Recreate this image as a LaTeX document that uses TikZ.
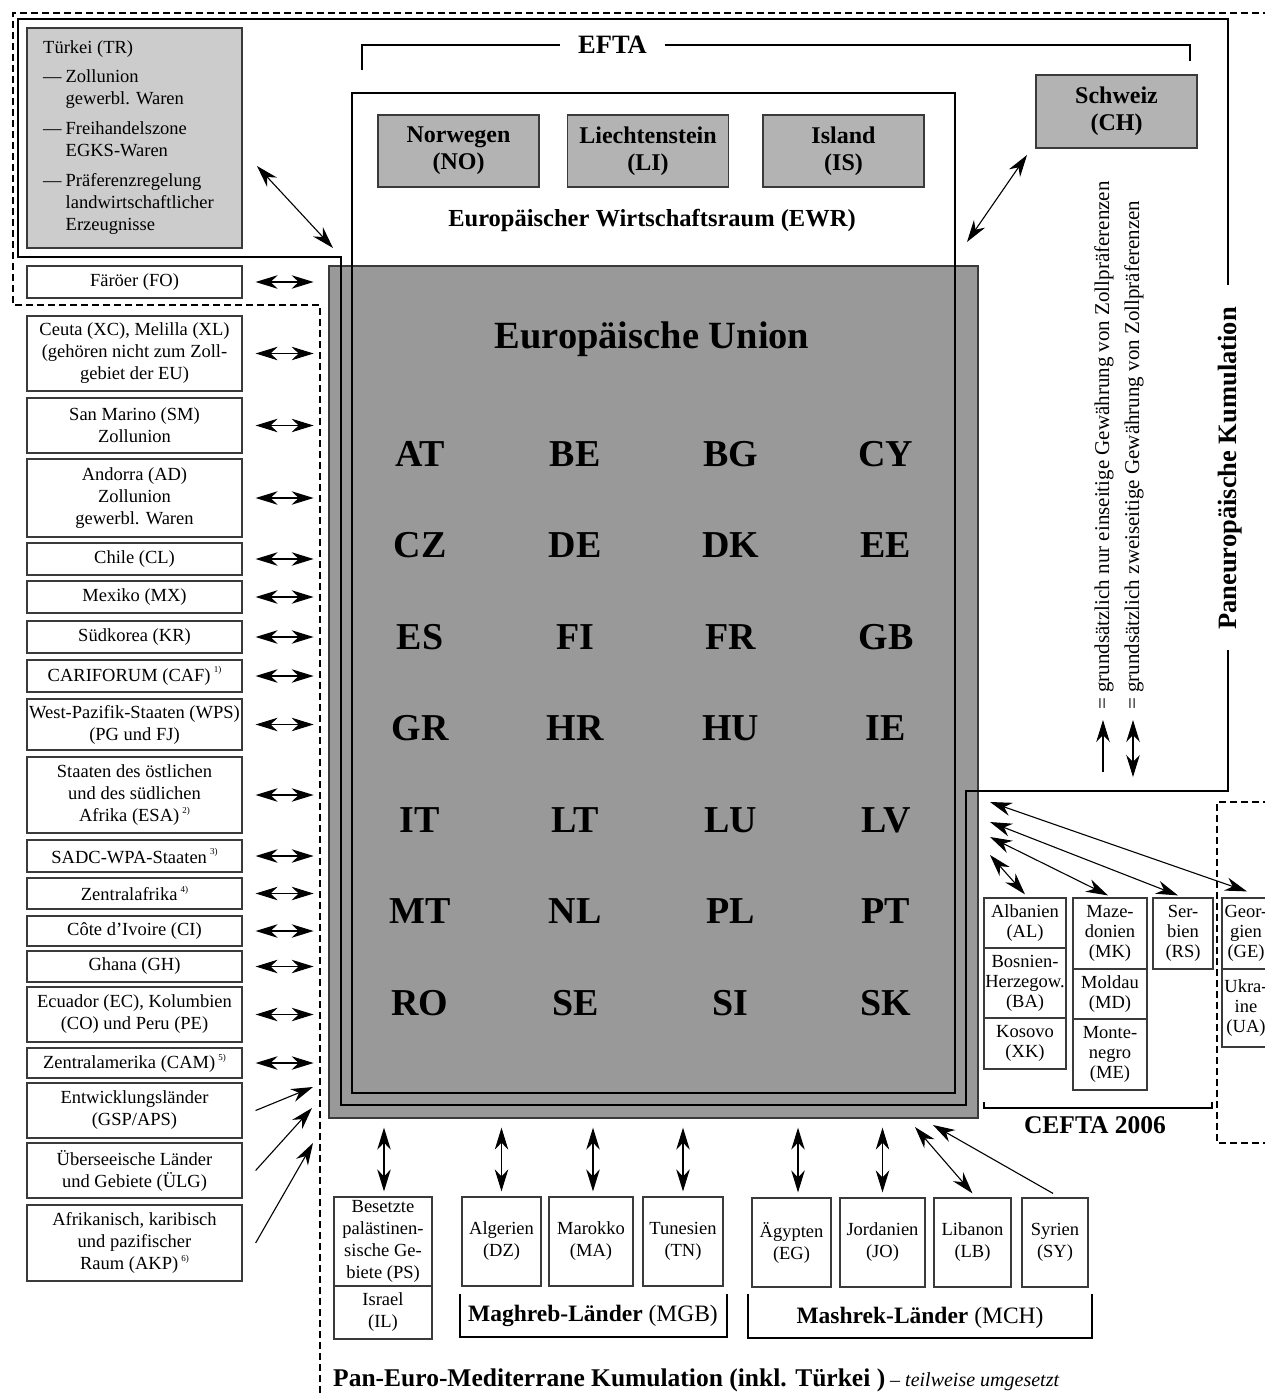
\documentclass[tikz,border=0pt]{standalone}
\usepackage{fontspec}
\setmainfont{Liberation Serif}
\usetikzlibrary{arrows.meta,calc}
\definecolor{eugray}{HTML}{999999}
\definecolor{efgray}{HTML}{B3B3B3}
\definecolor{trgray}{HTML}{CCCCCC}
\definecolor{edge}{HTML}{3A3A3A}
\newcommand{\fnote}[1]{\raisebox{0.45em}{\fontsize{9}{9}\selectfont #1}}
\tikzset{
  hd/.tip={Stealth[length=22pt,width=13.5pt,inset=7pt]},
  fs/.style={font=\fontsize{18.5}{22}\selectfont},
  fc/.style={font=\fontsize{18.5}{20}\selectfont},
  cbox/.style={draw=edge, line width=1.2pt, fill=white, align=center, inner sep=0pt, fs},
  lb/.style={cbox, minimum width=215pt},
  kbox/.style={cbox, fc},
  gbox/.style={draw=edge, line width=1.3pt, fill=efgray, align=center, inner sep=0pt,
               minimum width=161pt, minimum height=72pt, font=\bfseries\fontsize{24}{27}\selectfont},
  ln/.style={line width=1.5pt},
  br/.style={line width=1.3pt},
  dsh/.style={line width=2.3pt, dash pattern=on 7pt off 4pt},
  dar/.style={line width=1.1pt, arrows={hd-hd}},
  sar/.style={line width=1.1pt, arrows={-hd}},
  code/.style={font=\bfseries\fontsize{38}{40}\selectfont, inner sep=0pt},
}
\begin{document}
\begin{tikzpicture}[x=1pt,y=-1pt]
\useasboundingbox (0,0) rectangle (1265,1397);
\clip (0,0) rectangle (1265,1397);
\fill[white] (0,0) rectangle (1265,1397);

% European Union (grey area)
\node[draw=edge, line width=1.3pt, fill=eugray, minimum width=649pt, minimum height=852pt, inner sep=0pt] (eu) at (653.5,692) {};
% EWR frame
\node[draw=black, line width=1.5pt, minimum width=603pt, minimum height=1000pt, inner sep=0pt] (ewr) at (653.5,593) {};
% Paneuropean cumulation frame
\draw[ln] (1228,285) -- (1228,19) -- (18,19) -- (18,257) -- (341,257) -- (341,1105) -- (966,1105) -- (966,791) -- (1228,791) -- (1228,650);
% Pan-Euro-Med dashed frame
\draw[dsh] (1270,13) -- (13,13) -- (13,305) -- (320,305) -- (320,1400);
\draw[dsh] (1270,802) -- (1217,802) -- (1217,1143) -- (1270,1143);

% EFTA bracket
\draw[br] (362,70) -- (362,45) -- (560,45);
\draw[br] (665,45) -- (1190,45) -- (1190,61);
\node[anchor=base, inner sep=0pt, font=\bfseries\fontsize{26.5}{28}\selectfont] (efta) at (612.5,53) {EFTA};

% EFTA states
\node[gbox] (no) at (458.5,151) {Norwegen\\(NO)};
\node[gbox] (li) at (648,151) {Liechtenstein\\(LI)};
\node[gbox] (is) at (843.5,151) {Island\\(IS)};
\node[gbox, minimum height=73pt] (ch) at (1116.5,111.5) {Schweiz\\(CH)};
\node[anchor=base, inner sep=0pt, font=\bfseries\fontsize{24.5}{27}\selectfont] (ewrtxt) at (652,226) {Europäischer Wirtschaftsraum (EWR)};

% EU title and members
\node[anchor=base, inner sep=0pt, font=\bfseries\fontsize{38.5}{40}\selectfont] (eutxt) at (652,348) {Europäische Union};
\foreach \c [count=\i from 0] in {AT,BE,BG,CY,CZ,DE,DK,EE,ES,FI,FR,GB,GR,HR,HU,IE,IT,LT,LU,LV,MT,NL,PL,PT,RO,SE,SI,SK} {
  \pgfmathtruncatemacro{\col}{mod(\i,4)}
  \pgfmathtruncatemacro{\row}{int(\i/4)}
  \node[code] (c-\c) at ({420+155.3*\col},{454+91.5*\row}) {\c};
}

% Tuerkei
\node[draw=edge, line width=1.3pt, fill=trgray, minimum width=215pt, minimum height=220pt, inner sep=0pt] (tr) at (134.5,138) {};
\node[anchor=north west, inner sep=0pt, fs, align=left] (trtxt) at (43,38) {%
\begin{tabular}{@{}l@{\hspace{4pt}}l@{}}
\multicolumn{2}{@{}l@{}}{Türkei (TR)}\\[7pt]
— & Zollunion\\
  & gewerbl. Waren\\[8pt]
— & Freihandelszone\\
  & EGKS-Waren\\[8pt]
— & Präferenzregelung\\
  & landwirtschaftlicher\\
  & Erzeugnisse
\end{tabular}};
\coordinate (trA) at (257,166);
\coordinate (trB) at (333,248);
\draw[dar] (trA) -- (trB);
\coordinate (chA) at (1027,155);
\coordinate (chB) at (967,242);
\draw[dar] (chA) -- (chB);

% Left column
\node[lb, minimum height=32pt] (fo) at (134.5,282) {Färöer (FO)};
\node[lb, minimum height=75pt] (ceuta) at (134.5,353.5) {Ceuta (XC), Melilla (XL)\\(gehören nicht zum Zoll-\\gebiet der EU)};
\node[lb, minimum height=55pt] (sm) at (134.5,425.5) {San Marino (SM)\\Zollunion};
\node[lb, minimum height=78pt] (ad) at (134.5,498) {Andorra (AD)\\Zollunion\\gewerbl. Waren};
\node[lb, minimum height=32pt] (cl) at (134.5,559) {Chile (CL)};
\node[lb, minimum height=32pt] (mx) at (134.5,597) {Mexiko (MX)};
\node[lb, minimum height=32pt] (kr) at (134.5,637) {Südkorea (KR)};
\node[lb, minimum height=32pt] (caf) at (134.5,676) {CARIFORUM (CAF)\,\fnote{1)}};
\node[lb, minimum height=51pt] (wps) at (134.5,724.5) {West-Pazifik-Staaten (WPS)\\(PG und FJ)};
\node[lb, minimum height=76pt] (esa) at (134.5,795) {Staaten des östlichen\\und des südlichen\\Afrika (ESA)\,\fnote{2)}};
\node[lb, minimum height=32pt] (sadc) at (134.5,856) {SADC-WPA-Staaten\,\fnote{3)}};
\node[lb, minimum height=31pt] (zaf) at (134.5,893.5) {Zentralafrika\,\fnote{4)}};
\node[lb, minimum height=30pt] (ci) at (134.5,931) {Côte d’Ivoire (CI)};
\node[lb, minimum height=31pt] (gh) at (134.5,966.5) {Ghana (GH)};
\node[lb, minimum height=55pt] (ec) at (134.5,1014.5) {Ecuador (EC), Kolumbien\\(CO) und Peru (PE)};
\node[lb, minimum height=30pt] (cam) at (134.5,1063) {Zentralamerika (CAM)\,\fnote{5)}};
\node[lb, minimum height=55pt] (gsp) at (134.5,1110.5) {Entwicklungsländer\\(GSP/APS)};
\node[lb, minimum height=55pt] (ulg) at (134.5,1170.5) {Überseeische Länder\\und Gebiete (ÜLG)};
\node[lb, minimum height=76pt] (akp) at (134.5,1243) {Afrikanisch, karibisch\\und pazifischer\\Raum (AKP)\,\fnote{6)}};

\foreach \b in {fo,ceuta,sm,ad,cl,mx,kr,caf,wps,esa,sadc,zaf,ci,gh,ec,cam} {
  \draw[dar] ([xshift=13pt]\b.east) -- ([xshift=71pt]\b.east);
}
\coordinate (gspE) at (313,1087);
\coordinate (ulgE) at (312,1108);
\coordinate (akpE) at (313,1143);
\draw[sar] ([xshift=13pt]gsp.east) -- (gspE);
\draw[sar] ([xshift=13pt]ulg.east) -- (ulgE);
\draw[sar] ([xshift=13pt]akp.east) -- (akpE);

% Legend
\coordinate (l1a) at (1103,772);
\coordinate (l1b) at (1103,720);
\coordinate (l2a) at (1133,720);
\coordinate (l2b) at (1133,777);
\draw[sar] (l1a) -- (l1b);
\draw[dar] (l2a) -- (l2b);
\node[rotate=90, anchor=base west, inner sep=0pt, font=\fontsize{21}{24}\selectfont] (leg1) at (1109,710) {= grundsätzlich nur einseitige Gewährung von Zollpräferenzen};
\node[rotate=90, anchor=base west, inner sep=0pt, font=\fontsize{21}{24}\selectfont] (leg2) at (1139,710) {= grundsätzlich zweiseitige Gewährung von Zollpräferenzen};
\node[rotate=90, anchor=base west, inner sep=0pt, font=\bfseries\fontsize{26.5}{28}\selectfont] (pek) at (1236,630) {Paneuropäische Kumulation};

% CEFTA
\node[kbox, minimum width=82pt, minimum height=50pt] (al) at (1025,923) {Albanien\\(AL)};
\node[kbox, minimum width=82pt, minimum height=70pt] (ba) at (1025,983) {Bosnien-\\Herzegow.\\(BA)};
\node[kbox, minimum width=82pt, minimum height=51pt] (xk) at (1025,1043.5) {Kosovo\\(XK)};
\node[kbox, minimum width=74pt, minimum height=71pt] (mk) at (1110,933.5) {Maze-\\donien\\(MK)};
\node[kbox, minimum width=74pt, minimum height=50pt] (md) at (1110,994) {Moldau\\(MD)};
\node[kbox, minimum width=74pt, minimum height=71pt] (me) at (1110,1054.5) {Monte-\\negro\\(ME)};
\node[kbox, minimum width=60pt, minimum height=71pt] (rs) at (1183,933.5) {Ser-\\bien\\(RS)};
\node[kbox, minimum width=48pt, minimum height=71pt] (ge) at (1246,933.5) {Geor-\\gien\\(GE)};
\node[kbox, minimum width=48pt, minimum height=78pt] (ua) at (1246,1008) {Ukra-\\ine\\(UA)};
\coordinate (ceA) at (990,855);
\coordinate (ceB) at (990,837);
\coordinate (ceC) at (990,822);
\coordinate (ceD) at (990,802);
\draw[dar] (ceA) -- ([yshift=3pt]al.north);
\draw[dar] (ceB) -- ([xshift=-2pt,yshift=2pt]mk.north);
\draw[dar] (ceC) -- ([xshift=-5pt,yshift=2pt]rs.north);
\draw[dar] (ceD) -- ([xshift=1pt,yshift=6pt]ge.north);
\draw[br] (984,1102) -- (984,1108) -- (1212,1108) -- (1212,1102);
\node[anchor=base, inner sep=0pt, font=\bfseries\fontsize{25.5}{28}\selectfont] (cefta) at (1095,1133) {CEFTA 2006};

% Mediterranean partners
\node[cbox, minimum width=98pt, minimum height=89pt] (ps) at (383,1241.5) {Besetzte\\palästinen-\\sische Ge-\\biete (PS)};
\node[cbox, minimum width=98pt, minimum height=53pt] (il) at (383,1312.5) {Israel\\(IL)};
\node[cbox, minimum width=79pt, minimum height=89pt] (dz) at (501.5,1241.5) {Algerien\\(DZ)};
\node[cbox, minimum width=84pt, minimum height=89pt] (ma) at (591,1241.5) {Marokko\\(MA)};
\node[cbox, minimum width=80pt, minimum height=89pt] (tn) at (683,1241.5) {Tunesien\\(TN)};
\node[cbox, minimum width=79pt, minimum height=89pt] (eg) at (791.5,1242.5) {Ägypten\\(EG)};
\node[cbox, minimum width=85pt, minimum height=89pt] (jo) at (882.5,1242.5) {Jordanien\\(JO)};
\node[cbox, minimum width=77pt, minimum height=89pt] (lb) at (972.5,1242.5) {Libanon\\(LB)};
\node[cbox, minimum width=66pt, minimum height=89pt] (sy) at (1055,1242.5) {Syrien\\(SY)};

\foreach \b/\dx in {ps/1,dz/0,ma/2,tn/0,eg/6.5,jo/0} {
  \draw[dar] ($([xshift=\dx pt]\b.north |- eu.south)+(0,9)$) -- ([xshift=\dx pt,yshift=5pt]\b.north);
}
\coordinate (lbA) at (915,1127);
\coordinate (syA) at (933,1125);
\draw[dar] (lbA) -- ([yshift=4pt]lb.north);
\draw[sar] ([xshift=-2pt,yshift=4pt]sy.north) -- (syA);

\draw[br] (460,1294) -- (460,1337) -- (727,1337) -- (727,1294);
\node[anchor=base, inner sep=0pt, font=\fontsize{23.5}{26}\selectfont] (mgb) at (593,1321) {\textbf{Maghreb-Länder} (MGB)};
\draw[br] (748,1294) -- (748,1338) -- (1092,1338) -- (1092,1294);
\node[anchor=base, inner sep=0pt, font=\fontsize{23.5}{26}\selectfont] (mch) at (920,1323) {\textbf{Mashrek-Länder} (MCH)};

\node[anchor=base west, inner sep=0pt] (pem) at (333,1386) {{\bfseries\fontsize{25.5}{28}\selectfont Pan-Euro-Mediterrane Kumulation (inkl. Türkei )}{\itshape\fontsize{20}{24}\selectfont\ – teilweise umgesetzt}};
\end{tikzpicture}
\end{document}
